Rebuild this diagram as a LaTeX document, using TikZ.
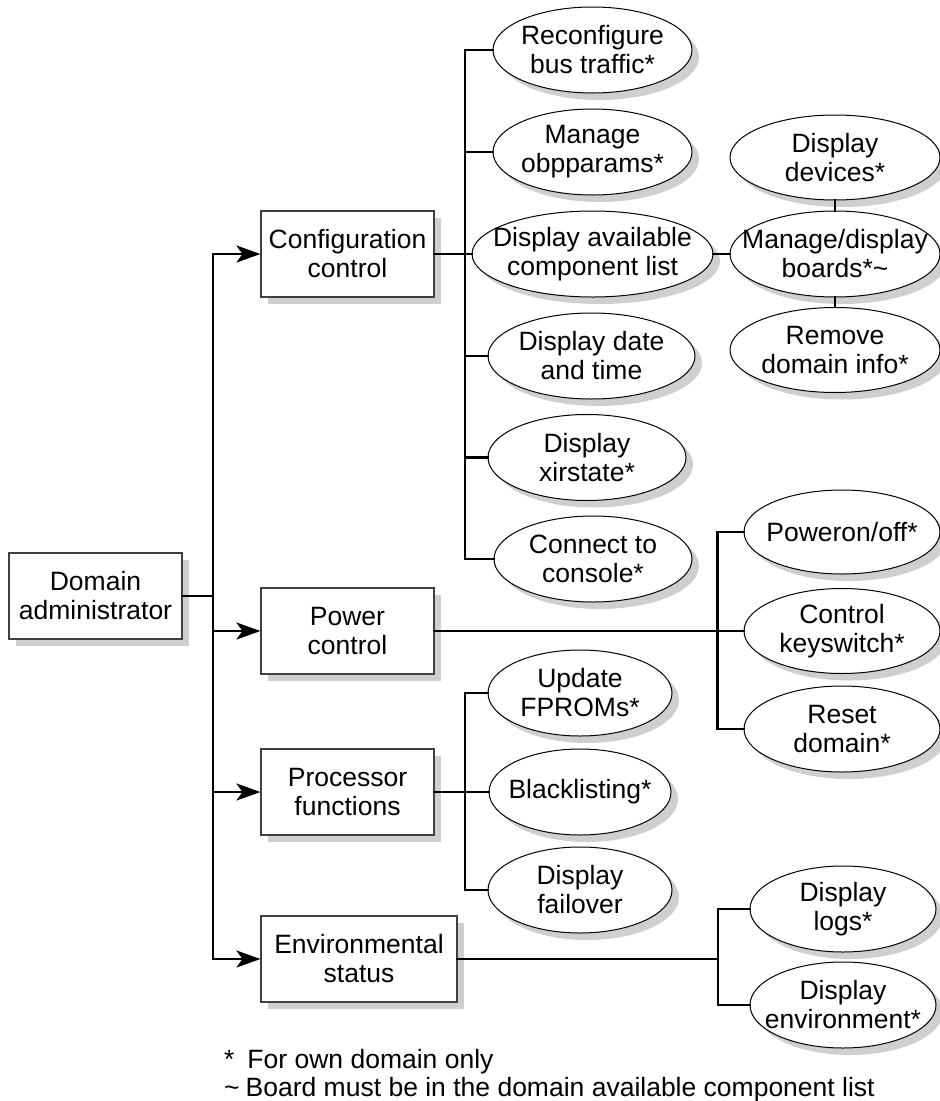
\documentclass[tikz,border=0pt]{standalone}
\usepackage{fontspec}
\setmainfont{Liberation Sans}
\usetikzlibrary{arrows.meta,shapes.geometric}
\newcommand\shnode[4]{%
  \node[#1, draw=none, fill=black!19, xshift=7pt, yshift=-7pt] at (#3) {};
  \node[#1] (#2) at (#3) {#4};}
\begin{document}
\begin{tikzpicture}[x=1pt,y=-1pt,
  every node/.style={font=\fontsize{26.5}{29}\selectfont, align=center},
  box/.style={draw=black!75, line width=1.1pt, fill=white, rectangle, inner sep=0pt,
    minimum width=173pt, minimum height=86pt},
  oval/.style={draw=black, line width=1pt, fill=white, ellipse, inner sep=-200pt,
    minimum height=86pt},
  conn/.style={line width=2.5pt, line cap=rect},
  arr/.style={line width=2.5pt, -{Stealth[length=24pt,width=17pt,inset=6pt]}},
]
\useasboundingbox (0,0) rectangle (940,1101);

% main boxes
\shnode{box}{da}{95.5,596}{Domain\\administrator}
\shnode{box}{cc}{347.5,254}{Configuration\\control}
\shnode{box}{pc}{347.5,631}{Power\\control}
\shnode{box}{pf}{347.5,792}{Processor\\functions}
\shnode{box, minimum width=196pt}{es}{359,959}{Environmental\\status}

% configuration children
\shnode{oval, minimum width=199pt}{rb}{592.5,50}{Reconfigure\\bus traffic*}
\shnode{oval, minimum width=199pt}{mo}{592.5,152}{Manage\\obpparams*}
\shnode{oval, minimum width=241pt}{dac}{592.5,254}{Display available\\component list}
\shnode{oval, minimum width=207pt}{ddt}{591.5,356}{Display date\\and time}
\shnode{oval, minimum width=198pt}{dx}{587,457.5}{Display\\xirstate*}
\shnode{oval, minimum width=198pt}{ctc}{593,559}{Connect to\\console*}

% board sub-children
\shnode{oval, minimum width=210pt, minimum height=85pt}{dd}{835,157.5}{Display\\devices*}
\shnode{oval, minimum width=210pt}{mdb}{835,254}{Manage/display\\boards*\textasciitilde}
\shnode{oval, minimum width=210pt, minimum height=85pt}{rdi}{835,350}{Remove\\domain info*}

% power children
\shnode{oval, minimum width=196pt, minimum height=84pt}{po}{842,532}{Poweron/off*}
\shnode{oval, minimum width=196pt, minimum height=85pt}{ck}{842,631}{Control\\keyswitch*}
\shnode{oval, minimum width=196pt}{rd}{842,729}{Reset\\domain*}

% processor children
\shnode{oval, minimum width=184pt}{uf}{580,693}{Update\\FPROMs*}
\shnode{oval, minimum width=182pt}{bl}{580,792}{Blacklisting*}
\shnode{oval, minimum width=184pt}{df}{580,890}{Display\\failover}

% environmental children
\shnode{oval, minimum width=186pt}{dl}{843,909}{Display\\logs*}
\shnode{oval, minimum width=186pt}{de}{843,1005}{Display\\environment*}

% junction coordinates
\coordinate (t) at (213,0);
\coordinate (tc) at (465,0);
\coordinate (tp) at (717.5,0);
\coordinate (tf) at (465,0);
\coordinate (te) at (718,0);

% trunk from domain administrator
\draw[conn] (da.east) -- (da.east -| t);
\draw[conn] (cc.west -| t) -- (es.west -| t);
\draw[arr] (cc.west -| t) -- (cc.west);
\draw[arr] (pc.west -| t) -- (pc.west);
\draw[arr] (pf.west -| t) -- (pf.west);
\draw[arr] (es.west -| t) -- (es.west);

% configuration branches
\draw[conn] (rb.west -| tc) -- (ctc.west -| tc);
\draw[conn] (cc.east) -- (dac.west);
\draw[conn] (rb.west -| tc) -- (rb.west);
\draw[conn] (mo.west -| tc) -- (mo.west);
\draw[conn] (ddt.west -| tc) -- (ddt.west);
\draw[conn] (dx.west -| tc) -- (dx.west);
\draw[conn] (ctc.west -| tc) -- (ctc.west);

% board branches
\draw[conn] (dac.east) -- (mdb.west);
\draw[conn] (dd.south) -- (mdb.north);
\draw[conn] (mdb.south) -- (rdi.north);

% power branches
\draw[conn] (pc.east) -- (ck.west);
\draw[conn] (po.west -| tp) -- (rd.west -| tp);
\draw[conn] (po.west -| tp) -- (po.west);
\draw[conn] (rd.west -| tp) -- (rd.west);

% processor branches
\draw[conn] (pf.east) -- (bl.west);
\draw[conn] (uf.west -| tf) -- (df.west -| tf);
\draw[conn] (uf.west -| tf) -- (uf.west);
\draw[conn] (df.west -| tf) -- (df.west);

% environmental branches
\draw[conn] (es.east) -- (es.east -| te);
\draw[conn] (dl.west -| te) -- (de.west -| te);
\draw[conn] (dl.west -| te) -- (dl.west);
\draw[conn] (de.west -| te) -- (de.west);

% footnotes
\node[anchor=base west, align=left, inner sep=0pt] (n1) at (224,1068)
  {*\hspace{13pt}For own domain only};
\node[anchor=base west, align=left, inner sep=0pt] (n2) at (224,1096)
  {\textasciitilde\hspace{6pt}Board must be in the domain available component list};
\end{tikzpicture}
\end{document}
